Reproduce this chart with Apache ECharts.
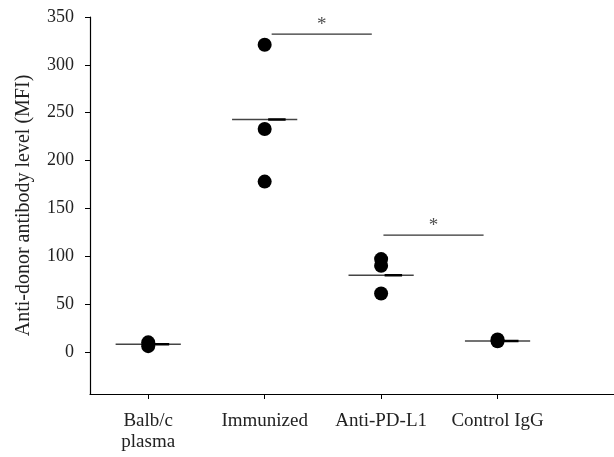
<!DOCTYPE html>
<html>
<head>
<meta charset="utf-8">
<script src="https://cdn.jsdelivr.net/npm/echarts@6/dist/echarts.min.js"></script>
<style>
  html, body { margin: 0; padding: 0; background: #fff; }
  #chart { width: 614px; height: 457px; }
</style>
</head>
<body>
<div id="chart"></div>
<script>
// groups and the points
const categories = ['Balb/c\nplasma', 'Immunized', 'Anti-PD-L1', 'Control IgG'];
const balbc = [10, 6];
const immunized = [321, 233, 178];
const antiPdl1 = [97, 90, 61];
const controlIgG = [13, 11];
const groupMeans = [8, 243, 80, 11.5];
// significance bars: [x start, x end, level]
const sigBars = [[2.06, 2.92, 332], [3.02, 3.88, 122]];
const yTicks = [0, 50, 100, 150, 200, 250, 300, 350];

const groups = [balbc, immunized, antiPdl1, controlIgG];
const font = '"Liberation Serif", "DejaVu Serif", serif';
const MEAN_HALF = 0.28;

let points = [];
groups.forEach((vals, i) => {
    vals.forEach(v => points.push([i + 1, v]));
});

let series = [
    {
        type: 'scatter',
        data: points,
        symbol: 'circle',
        symbolSize: 14,
        itemStyle: { color: '#000', opacity: 1 },
        z: 3
    }
];

// mean lines
groupMeans.forEach((m, i) => {
    series.push({
        type: 'line',
        data: [[i + 1 - MEAN_HALF, m], [i + 1 + MEAN_HALF, m]],
        symbol: 'none',
        lineStyle: { color: '#444', width: 1.5 },
        z: 2
    });
    series.push({
        type: 'line',
        data: [[i + 1 + 0.03, m], [i + 1 + 0.18, m]],
        symbol: 'none',
        lineStyle: { color: '#000', width: 2.5 },
        z: 2
    });
});

// significance bars with stars
sigBars.forEach(b => {
    series.push({
        type: 'line',
        data: [[b[0], b[2]], [b[1], b[2]]],
        symbol: 'none',
        lineStyle: { color: '#333', width: 1.2 },
        z: 2
    });
    series.push({
        type: 'scatter',
        data: [[(b[0] + b[1]) / 2, b[2]]],
        symbolSize: 0,
        label: {
            show: true,
            position: 'top',
            distance: 0,
            formatter: '*',
            fontFamily: font,
            fontSize: 19,
            color: '#222'
        },
        z: 2
    });
});

const chart = echarts.init(document.getElementById('chart'), null, { renderer: 'canvas' });
chart.setOption({
    animation: false,
    grid: { left: 90, right: 0, top: 17, bottom: 63 },
    xAxis: {
        type: 'value',
        min: 0.5,
        max: 5,
        splitLine: { show: false },
        axisLine: { show: true, onZero: false, lineStyle: { color: '#000', width: 1.2 } },
        axisTick: { show: true, customValues: [1, 2, 3, 4], length: 5, lineStyle: { color: '#000' } },
        axisLabel: {
            customValues: [1, 2, 3, 4],
            formatter: v => categories[Math.round(v) - 1] || '',
            fontFamily: font,
            fontSize: 19,
            color: '#222',
            margin: 17,
            lineHeight: 21
        }
    },
    yAxis: {
        type: 'value',
        min: -44,
        max: 350,
        name: 'Anti-donor antibody level (MFI)',
        nameLocation: 'middle',
        nameGap: 56,
        nameTextStyle: { fontFamily: font, fontSize: 20, color: '#222' },
        splitLine: { show: false },
        axisLine: { show: true, onZero: false, lineStyle: { color: '#000', width: 1.2 } },
        axisTick: { show: true, customValues: yTicks, length: 5, lineStyle: { color: '#000' } },
        axisLabel: {
            customValues: yTicks,
            fontFamily: font,
            fontSize: 18,
            color: '#222',
            margin: 16
        }
    },
    series: series
});
</script>
</body>
</html>
